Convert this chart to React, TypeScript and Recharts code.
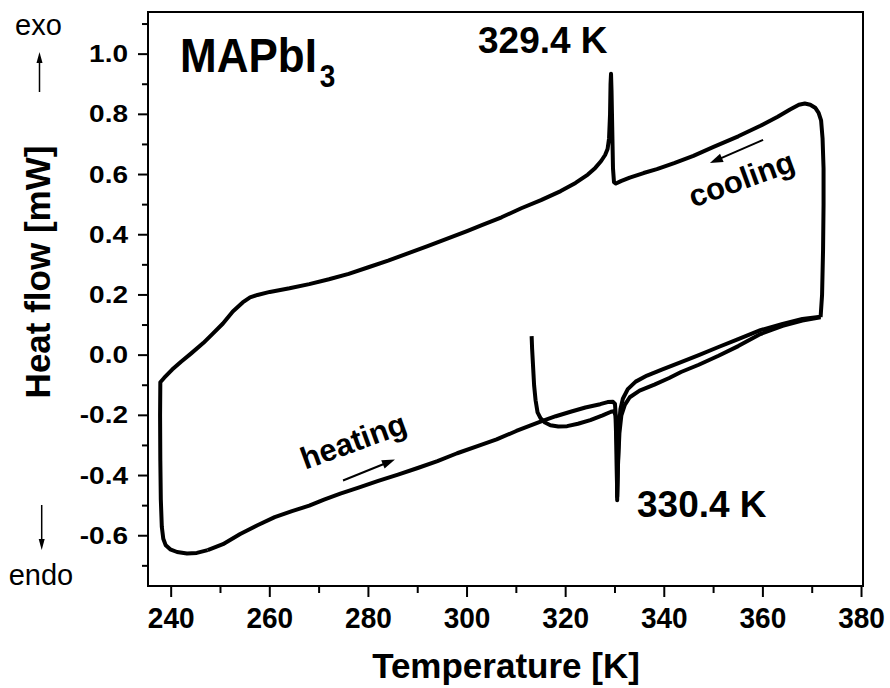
import React from 'react';
import { LineChart, Line, XAxis, YAxis, ReferenceArea } from 'recharts';

// ---- data ----
const heating1T = [313.1, 313.2, 313.4, 313.6, 313.9, 314.3, 314.9, 315.8, 316.9, 318.5, 320.3, 322.5, 325, 327.5, 329.2, 329.8, 330.1, 330.3, 330.45, 330.6, 330.9, 331.3, 332.0, 333.0, 335, 338, 341, 343.4, 347, 351, 355, 359.5, 364, 368, 371.7];
const heating1V = [0.063, 0.02, -0.04, -0.1, -0.15, -0.19, -0.209, -0.224, -0.233, -0.237, -0.236, -0.228, -0.216, -0.2, -0.188, -0.186, -0.2, -0.3, -0.47, -0.37, -0.26, -0.2, -0.165, -0.14, -0.118, -0.098, -0.076, -0.056, -0.032, -0.002, 0.03, 0.07, 0.097, 0.115, 0.126];

const coolingT = [371.7, 372.0, 372.2, 372.3, 372.3, 372.1, 371.8, 371.3, 370.6, 369.6, 368.5, 367.3, 365.5, 363, 359.5, 355, 350, 345.9, 342, 338.5, 335.8, 333, 331.2, 330.2, 329.8, 329.6, 329.45, 329.3, 329.2, 329.1, 329.0, 328.8, 328.5, 328.0, 327.2, 326, 324.5, 322, 319, 315, 311, 307, 303, 300, 296, 292, 288, 284, 280, 276, 272, 268, 264, 260, 257.5, 256, 254.5, 252.5, 250.5, 248.5, 246.5, 244, 242, 240.2, 238.6, 237.8, 237.75, 237.8, 237.9, 238.1, 238.4, 238.9, 239.8, 241.2, 243.2, 245.2, 247.4];
const coolingV = [0.126, 0.2, 0.35, 0.5, 0.62, 0.72, 0.78, 0.805, 0.822, 0.832, 0.836, 0.832, 0.816, 0.792, 0.762, 0.727, 0.692, 0.662, 0.638, 0.618, 0.605, 0.59, 0.578, 0.57, 0.575, 0.62, 0.75, 0.88, 0.935, 0.9, 0.8, 0.72, 0.685, 0.665, 0.645, 0.622, 0.6, 0.572, 0.545, 0.515, 0.488, 0.458, 0.432, 0.412, 0.387, 0.362, 0.338, 0.314, 0.292, 0.27, 0.252, 0.236, 0.222, 0.21, 0.2, 0.192, 0.175, 0.145, 0.105, 0.072, 0.04, 0.005, -0.022, -0.048, -0.075, -0.09, -0.2, -0.35, -0.48, -0.57, -0.61, -0.632, -0.645, -0.654, -0.659, -0.657, -0.648];

const heating2T = [247.4, 250.5, 254, 257.5, 261, 264.5, 268, 271, 274.3, 278, 282, 286, 290, 294, 298, 302.7, 306, 310, 314.9, 318, 321, 324, 327, 328.5, 329.6, 330.0, 330.2, 330.35, 330.45, 330.6, 330.8, 331.1, 331.6, 332.6, 334.2, 336.5, 339.5, 343.4, 347, 351, 355, 359.5, 364, 368, 371.7];
const heating2V = [-0.648, -0.628, -0.594, -0.565, -0.538, -0.518, -0.5, -0.48, -0.46, -0.44, -0.418, -0.397, -0.375, -0.352, -0.326, -0.299, -0.28, -0.252, -0.221, -0.203, -0.188, -0.174, -0.163, -0.156, -0.155, -0.162, -0.21, -0.33, -0.482, -0.36, -0.24, -0.18, -0.145, -0.113, -0.088, -0.068, -0.048, -0.023, 0.0, 0.027, 0.053, 0.083, 0.104, 0.12, 0.128];

const xTicks = [240, 250, 260, 270, 280, 290, 300, 310, 320, 330, 340, 350, 360, 370, 380];
const yTicks = [-0.7, -0.6, -0.5, -0.4, -0.3, -0.2, -0.1, 0.0, 0.1, 0.2, 0.3, 0.4, 0.5, 0.6, 0.7, 0.8, 0.9, 1.0, 1.1];
const xDomain = [235.3, 380.3];
const yDomain = [-0.767, 1.14];

const toPts = (t: number[], v: number[]) => t.map((T, i) => ({ T, V: v[i] }));
const heating1 = toPts(heating1T, heating1V);
const cooling = toPts(coolingT, coolingV);
const heating2 = toPts(heating2T, heating2V);

const FONT = '"Liberation Sans", Arial, sans-serif';

const XTick = (props: any) => {
  const { x, y, payload } = props;
  const v = payload.value;
  const major = Math.round(v) % 20 === 0;
  return (
    <g>
      <line x1={x} x2={x} y1={y} y2={y + (major ? 11 : 7)} stroke="#000" strokeWidth={2} />
      {major && (
        <text transform={`translate(${x},${y + 42}) scale(1,1.08)`} textAnchor="middle" fontFamily={FONT} fontWeight="bold" fontSize={28} fill="#000">
          {String(v)}
        </text>
      )}
    </g>
  );
};

const YTick = (props: any) => {
  const { x, y, payload } = props;
  const v = payload.value;
  const major = Math.abs(Math.round(v * 10)) % 2 === 0;
  return (
    <g>
      <line x1={x - (major ? 10 : 6)} x2={x} y1={y} y2={y} stroke="#000" strokeWidth={2} />
      {major && (
        <text transform={`translate(${x - 20},${y + 8}) scale(1,0.85)`} textAnchor="end" fontFamily={FONT} fontWeight="bold" fontSize={28} fill="#000">
          {v.toFixed(1)}
        </text>
      )}
    </g>
  );
};

export default function App() {
  return (
    <div style={{ position: 'absolute', left: 0, top: 0, width: 890, height: 688, background: '#fff' }}>
      <LineChart width={890} height={688} margin={{ top: 12, right: 27, left: 48, bottom: 42 }}>
        <XAxis
          type="number"
          dataKey="T"
          domain={xDomain}
          allowDataOverflow
          ticks={xTicks}
          interval={0}
          tickSize={0}
          tickMargin={0}
          tickLine={false}
          axisLine={false}
          tick={<XTick />}
          height={60}
        />
        <YAxis
          type="number"
          dataKey="V"
          domain={yDomain}
          allowDataOverflow
          ticks={yTicks}
          interval={0}
          tickSize={0}
          tickMargin={0}
          tickLine={false}
          axisLine={false}
          tick={<YTick />}
          width={100}
        />
        <ReferenceArea x1={xDomain[0]} x2={xDomain[1]} y1={yDomain[0]} y2={yDomain[1]} fill="none" stroke="#000" strokeWidth={2} ifOverflow="visible" />
        <Line data={heating1} dataKey="V" type="linear" dot={false} stroke="#000" strokeWidth={4} strokeLinejoin="round" isAnimationActive={false} />
        <Line data={cooling} dataKey="V" type="linear" dot={false} stroke="#000" strokeWidth={4} strokeLinejoin="round" isAnimationActive={false} />
        <Line data={heating2} dataKey="V" type="linear" dot={false} stroke="#000" strokeWidth={4} strokeLinejoin="round" isAnimationActive={false} />
      </LineChart>
      <svg width={890} height={688} style={{ position: 'absolute', left: 0, top: 0, pointerEvents: 'none' }}>
        <g fontFamily={FONT} fill="#000">
          <text x={38.5} y={35} textAnchor="middle" fontSize={29}>exo</text>
          <line x1={39.5} x2={39.5} y1={92} y2={60} stroke="#000" strokeWidth={1.5} />
          <polygon points="39.5,52 36.5,63 42.5,63" fill="#000" />
          <line x1={41.7} x2={41.7} y1={505} y2={540} stroke="#000" strokeWidth={1.5} />
          <polygon points="41.7,550 38.7,539 44.7,539" fill="#000" />
          <text x={41} y={585} textAnchor="middle" fontSize={29}>endo</text>

          <text transform="translate(50,272) rotate(-90)" textAnchor="middle" fontSize={35} fontWeight="bold">Heat flow [mW]</text>
          <text x={506} y={678} textAnchor="middle" fontSize={35} fontWeight="bold">Temperature [K]</text>

          <text transform="translate(180,72) scale(1,1.1)" fontSize={44} fontWeight="bold">
            MAPbI<tspan fontSize={28} dx={3} dy={14}>3</tspan>
          </text>
          <text x={478} y={53} fontSize={37} fontWeight="bold">329.4 K</text>
          <text x={637} y={517} fontSize={37} fontWeight="bold">330.4 K</text>

          <text transform="translate(357,451) rotate(-20)" textAnchor="middle" fontSize={31} fontWeight="bold">heating</text>
          <g transform="translate(369,470) rotate(-22)">
            <line x1={-28} x2={18} y1={0} y2={0} stroke="#000" strokeWidth={2} />
            <polygon points="28,0 15,-4.5 15,4.5" fill="#000" />
          </g>
          <text transform="translate(745,189) rotate(-20)" textAnchor="middle" fontSize={31} fontWeight="bold">cooling</text>
          <g transform="translate(736.5,151.5) rotate(-23.5)">
            <line x1={-18} x2={29} y1={0} y2={0} stroke="#000" strokeWidth={2} />
            <polygon points="-29,0 -16,-4.5 -16,4.5" fill="#000" />
          </g>
        </g>
      </svg>
    </div>
  );
}
